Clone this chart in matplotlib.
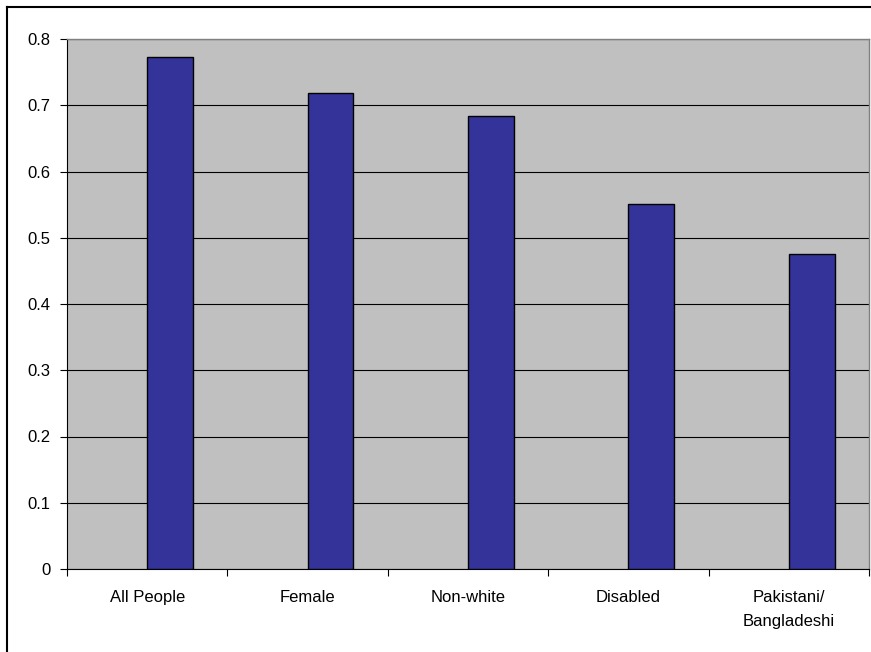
import numpy as np
import matplotlib.pyplot as plt
from matplotlib.lines import Line2D

categories = ["All People", "Female", "Non-white", "Disabled", "Pakistani/\nBangladeshi"]
values = [0.773, 0.718, 0.684, 0.551, 0.475]
yticks = [0, 0.1, 0.2, 0.3, 0.4, 0.5, 0.6, 0.7, 0.8]

plt.rcParams['font.family'] = ['Liberation Sans', 'DejaVu Sans']

fig = plt.figure(figsize=(8.71, 6.52), dpi=100)
W, H = 871.0, 652.0
ax = fig.add_axes([67 / W, (H - 569) / H, (869 - 67) / W, (569 - 39) / H])
ax.set_facecolor('#c0c0c0')

x = np.arange(len(categories))
# bars sit just right of each category centre (Excel clustered layout)
ax.bar(x, values, width=0.286, align='edge', color='#333399',
       edgecolor='black', linewidth=1.0, zorder=3)

ax.set_xlim(-0.5, len(categories) - 0.5)
ax.set_ylim(0, 0.8)
ax.set_yticks(yticks)
ax.set_yticklabels(["0"] + ["%.1f" % v for v in yticks[1:]], fontsize=12)
ax.yaxis.grid(True, color='black', linewidth=0.8, zorder=1)
ax.set_axisbelow(True)

ax.set_xticks(x)
ax.set_xticklabels(categories, fontsize=12, linespacing=1.75)
ax.tick_params(axis='x', length=0, pad=15)
# tick marks between categories
ax.set_xticks(np.arange(-0.5, len(categories)), minor=True)
ax.tick_params(axis='x', which='minor', length=5, width=0.8, direction='out')
ax.tick_params(axis='y', length=5, width=0.8, direction='out', pad=7)

for s in ['left', 'bottom']:
    ax.spines[s].set_color('black')
    ax.spines[s].set_linewidth(0.8)
for s in ['top', 'right']:
    ax.spines[s].set_color('#808080')
    ax.spines[s].set_linewidth(1.0)

# outer chart frame
fig.add_artist(Line2D([6.5 / W, 6.5 / W], [0, (H - 6.5) / H], color='black', linewidth=1.5))
fig.add_artist(Line2D([6.5 / W, 1], [(H - 6.5) / H, (H - 6.5) / H], color='black', linewidth=1.5))

fig.savefig('out.png', dpi=100)
